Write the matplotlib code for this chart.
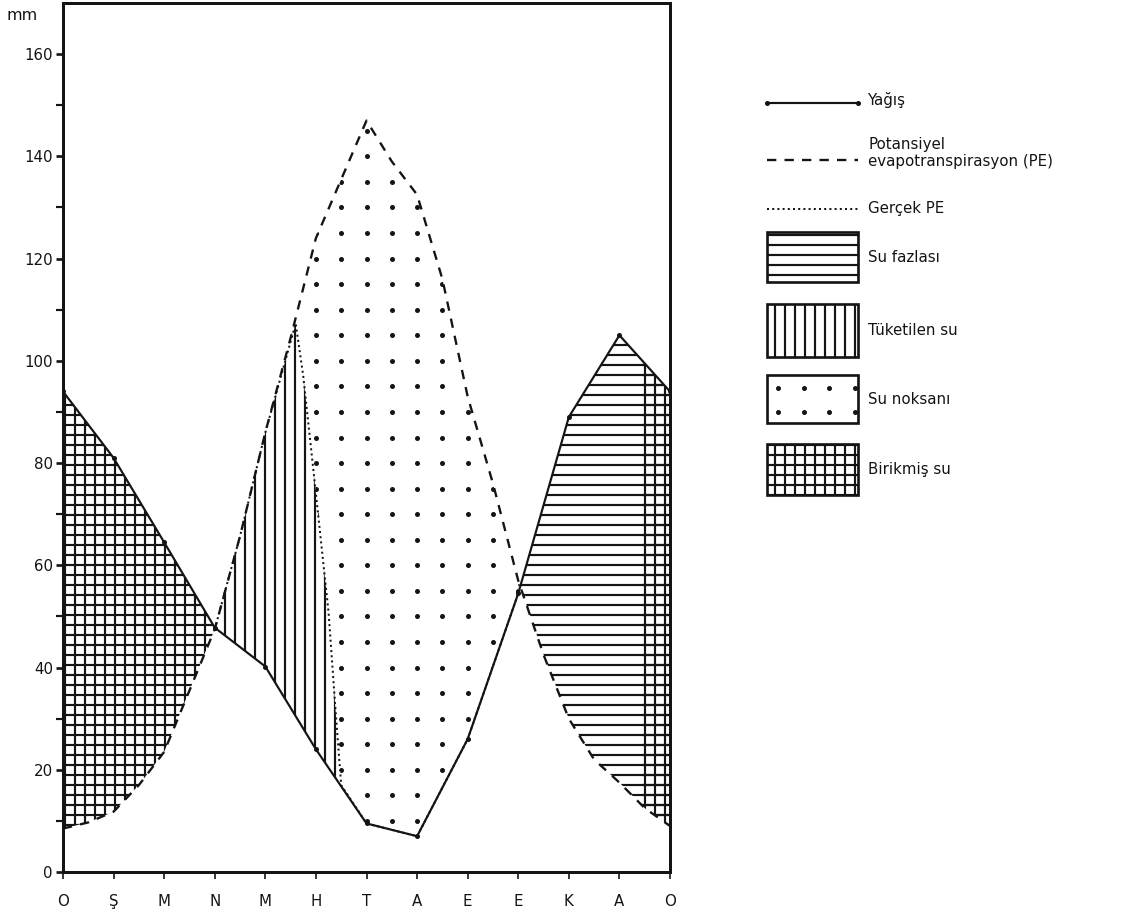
import numpy as np
import matplotlib.pyplot as plt
from matplotlib.patches import Polygon, Rectangle

# ---- data (mm) ----
months = ["O", "Ş", "M", "N", "M", "H", "T", "A", "E", "E", "K", "A", "O"]
month_x = np.arange(13)

# Yağış, monthly
yagis = [94, 81, 64.5, 47.8, 40.2, 24, 9.5, 7, 26, 54.5, 89, 105, 94]

# Potansiyel evapotranspirasyon, read every half month
pe_x = np.arange(0, 12.5, 0.5)
pe = [8.5, 9.7, 11.8, 17, 23.5, 35.5, 47.5, 65.7, 86, 104.5, 124, 135.5, 147,
      139, 132.5, 116, 93, 76, 57, 42.5, 30, 22, 17.5, 12.5, 9]

# Gerçek PE (only where it leaves the PE curve)
gpe_x = [3, 3.5, 4, 4.6, 4.75, 5.0, 5.25, 5.4, 5.5, 6, 7, 8, 9]
gpe = [47.5, 65.7, 86, 107.3, 97, 74, 50.8, 30, 17, 9.5, 7, 26, 54.5]

# start of the right "birikmiş su" strip (month)
birikmis_start = 11.45

legend_labels = ["Yağış", "Potansiyel\nevapotranspirasyon (PE)", "Gerçek PE",
                 "Su fazlası", "Tüketilen su", "Su noksanı", "Birikmiş su"]

ink = "#141414"
plt.rcParams["hatch.linewidth"] = 1.3
plt.rcParams["font.family"] = "DejaVu Sans"

W, H, DPI = 1128, 916, 120
fig = plt.figure(figsize=(W / DPI, H / DPI), dpi=DPI)

# background axes in pixel units (legend, "mm")
bg = fig.add_axes([0, 0, 1, 1])
bg.set_xlim(0, W)
bg.set_ylim(H, 0)
bg.axis("off")

ax = fig.add_axes([63 / W, 1 - 872 / H, 607 / W, 869 / H])
ax.set_facecolor("none")

px = np.asarray(pe_x)
pe_a = np.asarray(pe)
yx = np.asarray(month_x)
yv = np.asarray(yagis)
gx = np.asarray(gpe_x)
gv = np.asarray(gpe)


def seg(x, y, lo, hi):
    m = (x >= lo - 1e-9) & (x <= hi + 1e-9)
    return list(zip(x[m], y[m]))


# birikmiş su, left part: between P (top) and PE (bottom), O..N
left_poly = seg(yx, yv, 0, 3) + seg(px, pe_a, 0, 3)[::-1]
ax.add_patch(Polygon(left_poly, closed=True, facecolor="none", edgecolor=ink,
                     lw=0, hatch="++", zorder=2))

# tüketilen su: between gerçek PE (top) and P (bottom)
tuk_poly = seg(gx, gv, 3, 5.5) + seg(yx, yv, 3, 5)[::-1]
ax.add_patch(Polygon(tuk_poly, closed=True, facecolor="none", edgecolor=ink,
                     lw=0, hatch="||", zorder=2))

# su noksanı: between PE (top) and gerçek PE (bottom)
nok_poly = seg(px, pe_a, 4.5, 9) + seg(gx, gv, 4.6, 9)[::-1]
nok_patch = Polygon(nok_poly, closed=True, fill=False, lw=0)
ax.add_patch(nok_patch)
gx_d, gy_d = np.meshgrid(np.arange(0.5, 12, 0.5), np.arange(5, 170, 5))
dots = ax.scatter(gx_d.ravel(), gy_d.ravel(), s=9, color=ink, lw=0, zorder=2)
dots.set_clip_path(nok_patch)

# su fazlası: between P (top) and PE (bottom), E..O
faz_poly = seg(yx, yv, 9, 12) + seg(px, pe_a, 9, 12)[::-1]
faz_patch = Polygon(faz_poly, closed=True, facecolor="none", edgecolor=ink,
                    lw=0, hatch="--", zorder=2)
ax.add_patch(faz_patch)
strip = ax.axvspan(birikmis_start, 12, facecolor="none", edgecolor=ink, lw=0,
                   hatch="++", zorder=2)
strip.set_clip_path(faz_patch)

# curves
ax.plot(month_x, yagis, color=ink, lw=1.3, marker="o", ms=2, zorder=3)
ax.plot(pe_x, pe, color=ink, lw=1.4, ls=(0, (4, 3.5)), zorder=3)
ax.plot(gpe_x, gpe, color=ink, lw=1.2, ls=(0, (1, 1.6)), zorder=3)

ax.set_xlim(0, 12)
ax.set_ylim(0, 170)
ax.set_xticks(month_x)
ax.set_xticklabels(months)
ax.set_yticks(np.arange(0, 161, 20))
ax.set_yticks(np.arange(10, 170, 20), minor=True)
ax.tick_params(axis="x", length=4, width=1, pad=9, labelsize=9, colors=ink)
ax.tick_params(axis="y", which="major", length=4, width=1.6, pad=2,
               labelsize=9, colors=ink)
ax.tick_params(axis="y", which="minor", length=4, width=1.3, colors=ink)
for s in ax.spines.values():
    s.set_linewidth(1.8)
    s.set_color(ink)

bg.text(6, 16, "mm", fontsize=9.5, color=ink, va="center", ha="left")

# legend drawn by hand on the right
lx0, lx1, tx = 767, 858, 868
bg.plot([lx0, lx1], [103, 103], color=ink, lw=1.3)
bg.plot([lx0, lx1], [103, 103], ls="none", marker="o", ms=2, color=ink)
bg.text(tx, 100, legend_labels[0], fontsize=9, va="center", color=ink)
bg.plot([lx0, lx1], [160, 160], color=ink, lw=1.4, ls=(0, (4, 3.5)))
bg.text(tx, 153, legend_labels[1], fontsize=9, va="center", color=ink,
        linespacing=1.1)
bg.plot([lx0, lx1], [209, 209], color=ink, lw=1.2, ls=(0, (1, 1.6)))
bg.text(tx, 208, legend_labels[2], fontsize=9, va="center", color=ink)

boxes = [(232, 50, "--"), (304, 53, "||"), (375, 48, None), (444, 51, "++")]
for (top, h, hatch), lab in zip(boxes, legend_labels[3:]):
    bg.add_patch(Rectangle((lx0, top), lx1 - lx0, h, facecolor="none",
                           edgecolor=ink, lw=1.6, hatch=hatch))
    bg.text(tx, top + h / 2, lab, fontsize=9, va="center", color=ink)
# dots of the "su noksanı" box
bx, by = np.meshgrid(lx0 + 11 + 25.5 * np.arange(4), [388, 412])
bg.scatter(bx.ravel(), by.ravel(), s=9, color=ink, lw=0)

fig.savefig("out.png", dpi=DPI)
